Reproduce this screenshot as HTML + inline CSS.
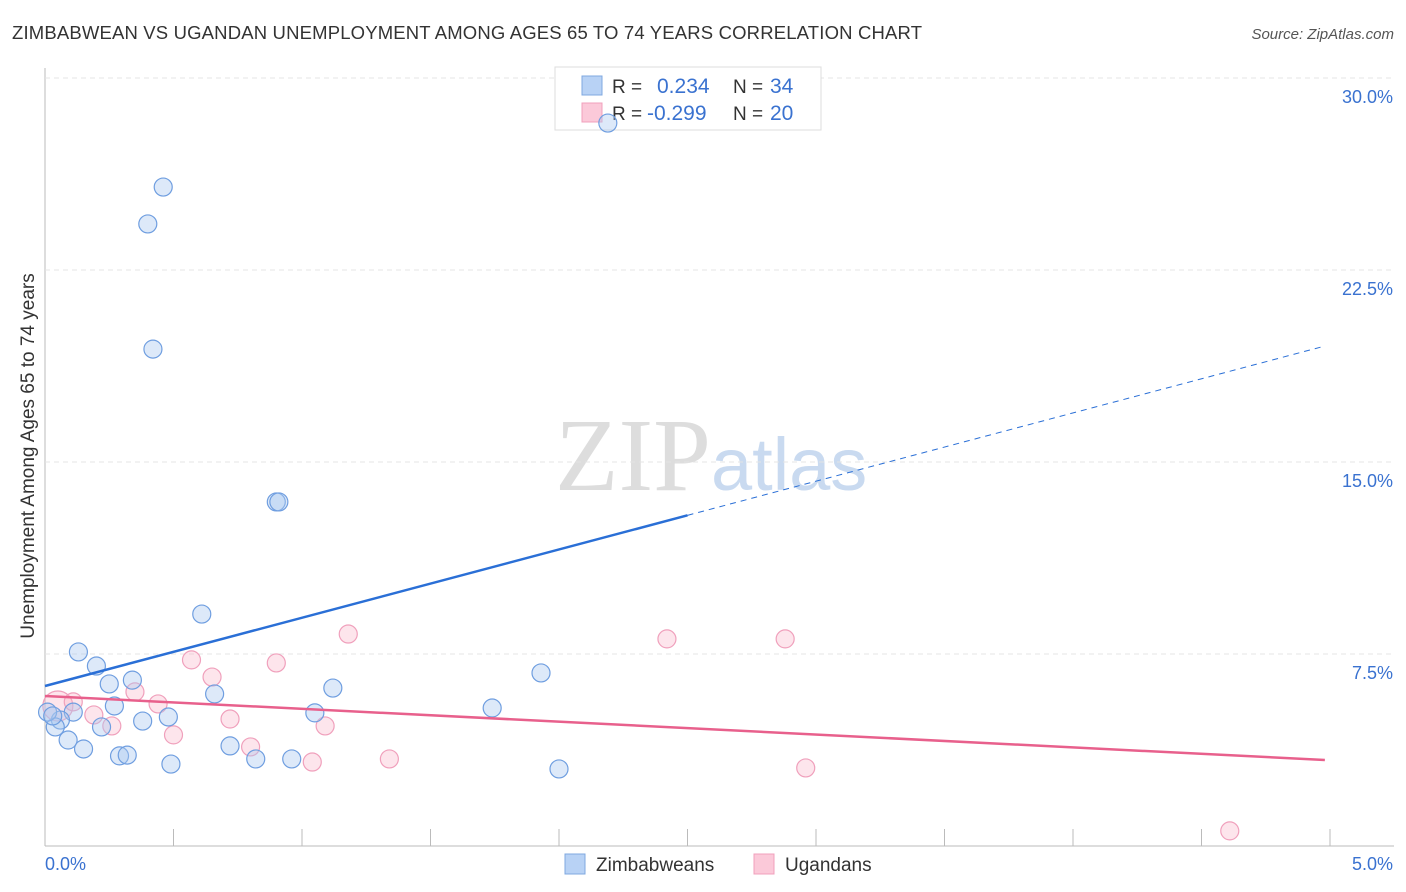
<!DOCTYPE html>
<html><head><meta charset="utf-8"><style>
body{margin:0;background:#fff;font-family:"Liberation Sans",sans-serif;}
#wrap{position:relative;width:1406px;height:892px;overflow:hidden}
</style></head><body><div id="wrap">
<svg id="svg" width="1406" height="892" xmlns="http://www.w3.org/2000/svg">
<text x="12" y="39" font-size="18.5" fill="#333" textLength="910">ZIMBABWEAN VS UGANDAN UNEMPLOYMENT AMONG AGES 65 TO 74 YEARS CORRELATION CHART</text>
<text x="1394" y="39" font-size="15" fill="#555" font-style="italic" text-anchor="end">Source: ZipAtlas.com</text>
<text x="555" y="490" font-size="104" fill="#ddd" font-family="Liberation Serif,serif">ZIP<tspan fill="#c9daf0" font-family="Liberation Sans,sans-serif" font-size="74">atlas</tspan></text>
<text transform="translate(34,456) rotate(-90)" font-size="19" fill="#333" text-anchor="middle">Unemployment Among Ages 65 to 74 years</text>
<g id="grid"></g>
<g>
<rect x="555" y="67" width="266" height="63" fill="#fff" stroke="#ddd"/>
<rect x="582" y="76" width="20" height="19" fill="#b8d2f5" stroke="#7fa8e0"/>
<rect x="582" y="103" width="20" height="19" fill="#fbc9d9" stroke="#f0a0bc"/>
<text x="612" y="93" font-size="19" fill="#333">R = </text><text x="657" y="93" font-size="21" fill="#3a72d0">0.234</text>
<text x="733" y="93" font-size="19" fill="#333">N = </text><text x="770" y="93" font-size="21" fill="#3a72d0">34</text>
<text x="612" y="120" font-size="19" fill="#333">R = </text><text x="647" y="120" font-size="21" fill="#3a72d0">-0.299</text>
<text x="733" y="120" font-size="19" fill="#333">N = </text><text x="770" y="120" font-size="21" fill="#3a72d0">20</text>
</g>
<g id="pts"></g><g id="lines"></g>
<g>
<rect x="565" y="854" width="20" height="20" fill="#b8d2f5" stroke="#7fa8e0"/>
<text x="596" y="871" font-size="19" fill="#333">Zimbabweans</text>
<rect x="754" y="854" width="20" height="20" fill="#fbc9d9" stroke="#f0a0bc"/>
<text x="785" y="871" font-size="19" fill="#333">Ugandans</text>
</g>
</svg>
<script>
const yTicks=[7.5,15,22.5,30];
const yTickLabels=["7.5%","15.0%","22.5%","30.0%"];
const xTickLabels=["0.0%","5.0%"];
const blueX=[2.19,0.46,0.40,0.42,0.90,0.91,0.61,0.13,0.20,0.25,0.34,0.66,1.12,1.93,1.74,0.27,0.11,0.48,0.38,0.22,0.06,0.04,0.09,0.15,0.72,0.29,0.32,0.49,0.82,0.96,1.05,2.00,0.01,0.03];
const blueY=[28.24,25.74,24.30,19.41,13.44,13.44,9.06,7.58,7.03,6.33,6.48,5.94,6.17,6.76,5.39,5.47,5.23,5.04,4.88,4.65,4.92,4.65,4.14,3.79,3.91,3.52,3.55,3.20,3.40,3.40,5.20,3.01,5.23,5.08];
const pinkX=[0.05,0.11,0.19,0.26,0.35,0.44,0.50,0.57,0.65,0.72,0.80,0.90,1.04,1.09,1.18,1.34,2.42,2.88,2.96,4.61];
const pinkY=[5.47,5.63,5.12,4.69,6.02,5.55,4.34,7.27,6.60,4.96,3.87,7.15,3.28,4.69,8.28,3.40,8.09,8.09,3.05,0.59];
const blueLine=[6.25,19.53]; const blueSolidEnd=2.5;
const pinkLine=[5.86,3.36];
const X=v=>45+v*257, Y=v=>846-v*25.6;
const NS="http://www.w3.org/2000/svg";
function mk(tag,attrs,parent){const e=document.createElementNS(NS,tag);for(const k in attrs)e.setAttribute(k,attrs[k]);document.getElementById(parent).appendChild(e);return e;}
const g='grid';
let ax=mk('line',{x1:45,y1:846,x2:1394,y2:846,stroke:'#bbb'},g);

let ay=mk('line',{x1:45,y1:68,x2:45,y2:846,stroke:'#bbb'},g);

for(let i=1;i<=10;i++){let t=mk('line',{x1:X(i*0.5),y1:829,x2:X(i*0.5),y2:846,stroke:'#bbb'},g);
}
yTicks.forEach((v,i)=>{let l=mk('line',{x1:45,y1:Y(v),x2:1394,y2:Y(v),stroke:'#e4e4e4','stroke-dasharray':'5,4'},g);

let t=mk('text',{x:1393,y:Y(v)+25,'font-size':18,fill:'#3a72d0','text-anchor':'end'},g);t.textContent=yTickLabels[i];
});
let xl=mk('text',{x:45,y:870,'font-size':18,fill:'#3a72d0'},g);xl.textContent=xTickLabels[0];

let xr=mk('text',{x:1393,y:870,'font-size':18,fill:'#3a72d0','text-anchor':'end'},g);xr.textContent=xTickLabels[1];

pinkX.forEach((v,i)=>{let c=mk('circle',{cx:X(v),cy:Y(pinkY[i]),r:i===0?15:9,fill:'rgba(248,180,200,0.35)',stroke:'#f0a0bc','stroke-width':1.2},'pts');
});
blueX.forEach((v,i)=>{let c=mk('circle',{cx:X(v),cy:Y(blueY[i]),r:9,fill:'rgba(170,200,240,0.4)',stroke:'#6f9ee0','stroke-width':1.2},'pts');
});
const by=x=>blueLine[0]+(blueLine[1]-blueLine[0])*x/4.98;
let b1=mk('line',{x1:X(0),y1:Y(by(0)),x2:X(blueSolidEnd),y2:Y(by(blueSolidEnd)),stroke:'#2a6fd6','stroke-width':2.5},'lines');

let b2=mk('line',{x1:X(blueSolidEnd),y1:Y(by(blueSolidEnd)),x2:X(4.98),y2:Y(by(4.98)),stroke:'#2a6fd6','stroke-width':1,'stroke-dasharray':'6,5'},'lines');

let p1=mk('line',{x1:X(0),y1:Y(pinkLine[0]),x2:X(4.98),y2:Y(pinkLine[1]),stroke:'#e8608c','stroke-width':2.5},'lines');

</script></div></body></html>
